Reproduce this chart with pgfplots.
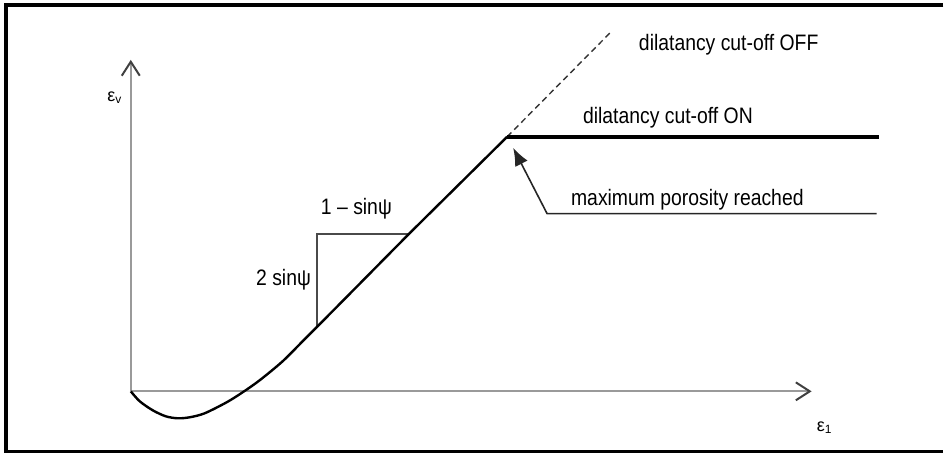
\documentclass[border=0pt]{standalone}
\usepackage{pgfplots}
\pgfplotsset{compat=1.18}
\usepackage{fontspec}
\setmainfont{Liberation Sans}
\usetikzlibrary{arrows.meta}
\definecolor{txt}{HTML}{333333}
\definecolor{axgray}{HTML}{9A9A9A}
\definecolor{tri}{HTML}{4A4A4A}
\newcommand{\tall}[1]{\scalebox{0.97}[1.12]{#1}}
\begin{document}
\begin{tikzpicture}
\begin{axis}[
    width=472.5pt, height=227pt,
    scale only axis,
    xmin=0, xmax=945, ymin=0, ymax=454,
    hide axis,
    clip=false,
    every node/.append style={font=\fontsize{10}{12}\selectfont, text=txt, inner sep=0pt},
]
% page extent
\addplot[draw=none] coordinates {(0,0) (945,454)};
% frame
\addplot[black, line width=1.6pt] coordinates {(945,449) (6,449) (6,2) (945,2)};
% axes
\addplot[axgray, line width=1.1pt, -{Straight Barb[length=7pt,width=9pt,line width=1pt,color=black!75]}]
    coordinates {(131,62) (131,394)};
\addplot[axgray, line width=1.1pt, -{Straight Barb[length=7pt,width=9pt,line width=1pt,color=black!75]}]
    coordinates {(131,62) (813,62)};
% slope triangle
\addplot[tri, line width=1pt] coordinates {(318,127) (318,220) (410,220)};
% dashed continuation (cut-off OFF)
\addplot[black!80, line width=0.7pt, dash pattern=on 3pt off 2pt] coordinates {(508,317) (612,422)};
% horizontal branch (cut-off ON)
\addplot[black, line width=2pt] coordinates {(508,317) (880,317)};
% main curve
\addplot[black, line width=1.2pt, smooth, tension=0.5] coordinates {
    (131,62) (140,52) (153,43) (166,37) (178,35) (190,36) (205,40)
    (227,51) (243,61) (260,73) (283,92) (303,112) (318,127)
    (364,173.5) (410,220) (459,268.5) (508,317)
};
% annotation arrow
\addplot[black!85, line width=0.8pt, -{Latex[length=9pt,width=7pt]}]
    coordinates {(878,240) (548,240) (514,306)};
% labels
\node[anchor=west] at (axis cs:633,409) {\tall{dilatancy cut-off OFF}};
\node[anchor=west] at (axis cs:577,336) {\tall{dilatancy cut-off ON}};
\node[anchor=west] at (axis cs:565,254) {\tall{maximum porosity reached}};
\node at (axis cs:357,245) {\tall{1 – sinψ}};
\node at (axis cs:284,174) {\tall{2 sinψ}};
\node at (axis cs:115,356) {\fontsize{9}{10}\selectfont ε\textsubscript{v}};
\node at (axis cs:826,26) {\fontsize{9}{10}\selectfont ε\textsubscript{1}};
\end{axis}
\end{tikzpicture}
\end{document}
